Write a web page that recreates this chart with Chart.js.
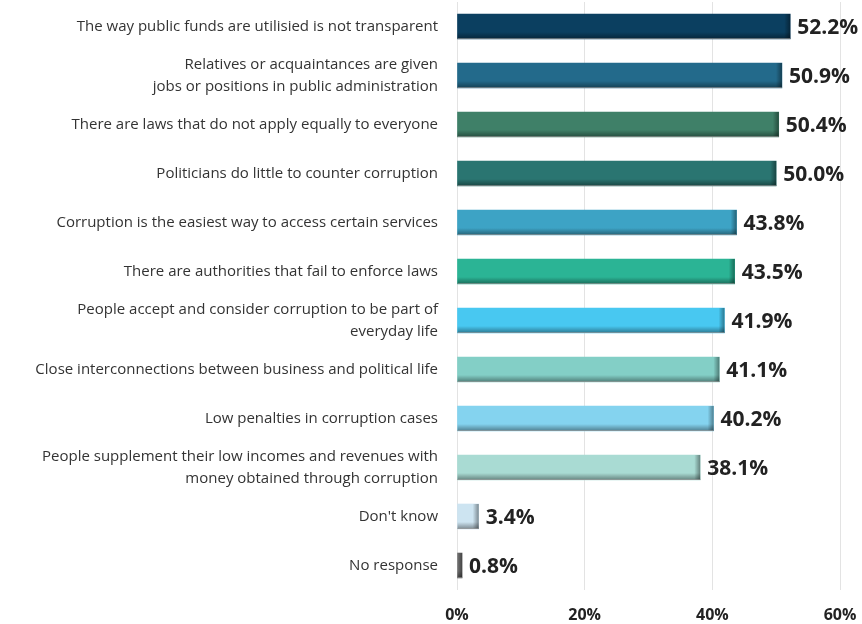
<!DOCTYPE html>
<html>
<head>
<meta charset="utf-8">
<script src="https://cdn.jsdelivr.net/npm/chart.js@4"></script>
<style>
    html, body { margin: 0; padding: 0; background: #ffffff; }
    #wrap { width: 862px; height: 624px; position: relative; }
</style>
</head>
<body>
<div id="wrap"><canvas id="corruptionChart"></canvas></div>
<script>
// Reasons for corruption, share of respondents (%)
const categories = [
    'The way public funds are utilisied is not transparent',
    ['Relatives or acquaintances are given', 'jobs or positions in public administration'],
    'There are laws that do not apply equally to everyone',
    'Politicians do little to counter corruption',
    'Corruption is the easiest way to access certain services',
    'There are authorities that fail to enforce laws',
    ['People accept and consider corruption to be part of', 'everyday life'],
    'Close interconnections between business and political life',
    'Low penalties in corruption cases',
    ['People supplement their low incomes and revenues with', 'money obtained through corruption'],
    "Don't know",
    'No response'
];
const shares = [52.2, 50.9, 50.4, 50.0, 43.8, 43.5, 41.9, 41.1, 40.2, 38.1, 3.4, 0.8];
const barColors = [
    '#0b3f60', '#236a8b', '#3f8068', '#2a7571', '#3da3c5', '#2bb495',
    '#48c8f1', '#83cfc6', '#84d3ef', '#a9dbd3', '#cde4f1', '#737373'
];
const xTicks = [0, 20, 40, 60];

const FONT = '"Open Sans", "Noto Sans", sans-serif';

// Fake 3D shading: darker bottom band and right edge on each bar
const barShade = {
    id: 'barShade',
    afterDatasetsDraw(chart) {
        const ctx = chart.ctx;
        chart.getDatasetMeta(0).data.forEach(bar => {
            const left = bar.base, right = bar.x;
            const top = bar.y - bar.height / 2, bottom = bar.y + bar.height / 2;
            const w = right - left, h = bottom - top;
            ctx.save();
            let g = ctx.createLinearGradient(0, top, 0, bottom);
            g.addColorStop(0, 'rgba(0,0,0,0)');
            g.addColorStop(0.72, 'rgba(0,0,0,0)');
            g.addColorStop(1, 'rgba(0,0,0,0.4)');
            ctx.fillStyle = g;
            ctx.fillRect(left, top, w, h);
            const edge = Math.min(6, w);
            g = ctx.createLinearGradient(right - edge, 0, right, 0);
            g.addColorStop(0, 'rgba(0,0,0,0)');
            g.addColorStop(1, 'rgba(0,0,0,0.4)');
            ctx.fillStyle = g;
            ctx.fillRect(right - edge, top, edge, h);
            ctx.fillStyle = 'rgba(160,160,160,0.6)';
            ctx.fillRect(left, bottom - 1, w, 1);
            ctx.restore();
        });
    }
};

// Value labels after the bar ends
const valueLabels = {
    id: 'valueLabels',
    afterDatasetsDraw(chart) {
        const ctx = chart.ctx;
        ctx.save();
        ctx.font = 'bold 21px ' + FONT;
        ctx.fillStyle = '#222222';
        ctx.textAlign = 'left';
        ctx.textBaseline = 'middle';
        chart.getDatasetMeta(0).data.forEach((bar, i) => {
            ctx.fillText(shares[i].toFixed(1) + '%', bar.x + 7, bar.y + 2);
        });
        ctx.restore();
    }
};

const ctx = document.getElementById('corruptionChart').getContext('2d');
new Chart(ctx, {
    type: 'bar',
    data: {
        labels: categories,
        datasets: [{
            data: shares,
            backgroundColor: barColors,
            barThickness: 25,
            borderWidth: 0
        }]
    },
    options: {
        indexAxis: 'y',
        responsive: true,
        maintainAspectRatio: false,
        animation: false,
        layout: { padding: { top: 2, right: 22, bottom: 0, left: 0 } },
        plugins: {
            legend: { display: false },
            tooltip: { enabled: false }
        },
        scales: {
            x: {
                min: 0,
                max: 60,
                afterBuildTicks: (scale) => {
                    scale.ticks = xTicks.map(v => ({ value: v }));
                },
                afterFit: (scale) => {
                    scale.height = 34;
                    scale.paddingLeft = 0;
                    scale.paddingRight = 0;
                },
                grid: { color: '#e3e3e3', lineWidth: 1, drawTicks: false },
                border: { display: false },
                ticks: {
                    padding: 16,
                    color: '#222222',
                    font: { family: FONT, size: 16, weight: 'bold' },
                    callback: (v) => v + '%'
                }
            },
            y: {
                afterFit: (scale) => {
                    scale.width = 457;
                    scale.paddingTop = 0;
                    scale.paddingBottom = 0;
                },
                grid: { display: false, drawTicks: false },
                border: { display: false },
                ticks: {
                    autoSkip: false,
                    padding: 19,
                    color: '#333333',
                    font: { family: FONT, size: 15, lineHeight: 1.5 }
                }
            }
        }
    },
    plugins: [barShade, valueLabels]
});
</script>
</body>
</html>
